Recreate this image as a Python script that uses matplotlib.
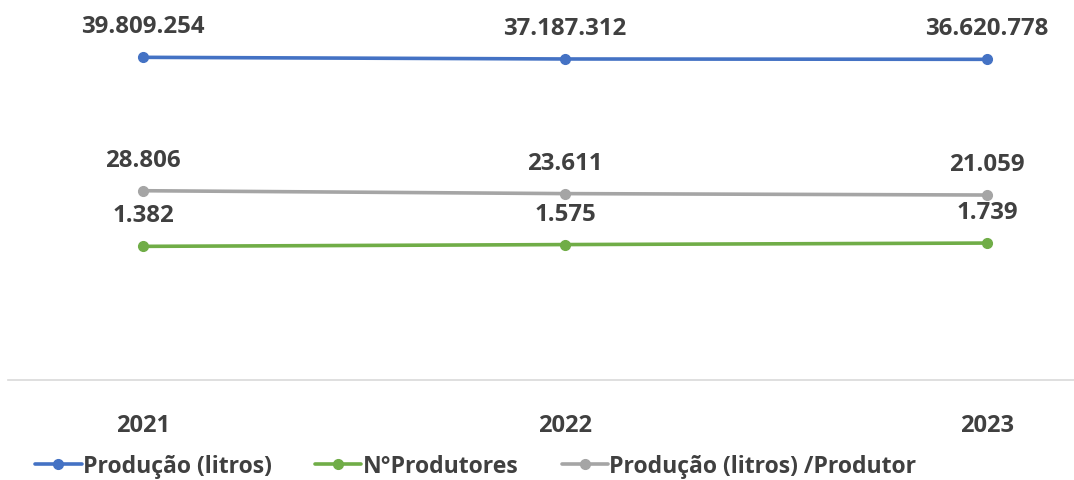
import matplotlib
matplotlib.use("Agg")
import matplotlib.pyplot as plt

plt.rcParams['font.family'] = ['Open Sans', 'DejaVu Sans']

anos = ['2021', '2022', '2023']
producao = [39809254, 37187312, 36620778]
produtores = [1382, 1575, 1739]
prod_por_produtor = [28806, 23611, 21059]

nomes = ['Produção (litros)', 'N°Produtores', 'Produção (litros) /Produtor']
cores = ['#4472C4', '#70AD47', '#A5A5A5']
texto = '#404040'


def fmt(v):
    return f"{v:,}".replace(",", ".")


fig = plt.figure(figsize=(10.74, 4.81), dpi=100)
ax = fig.add_axes([8 / 1074, 100 / 481, 1066 / 1074, 361 / 481])
ax2 = ax.twinx()
ax3 = ax.twinx()

x = list(range(len(anos)))
series = [
    (ax, producao, (-472e6, 100.6e6)),
    (ax3, produtores, (-13078, 25982)),
    (ax2, prod_por_produtor, (-312000, 338000)),
]

handles = []
for (a, vals, lim), nome, cor in zip(series, nomes, cores):
    h, = a.plot(x, vals, color=cor, lw=2.6, marker='o', ms=7, label=nome,
                solid_capstyle='round')
    handles.append(h)
    a.set_ylim(*lim)
    for xi, v in zip(x, vals):
        a.annotate(fmt(v), (xi, v), xytext=(0, 31), textcoords='offset pixels',
                   ha='center', va='center', fontsize=17.3, fontweight='bold',
                   color=texto, zorder=10)

for a in (ax, ax2, ax3):
    for s in ('top', 'left', 'right'):
        a.spines[s].set_visible(False)
    a.set_yticks([])
    a.spines['bottom'].set_visible(a is ax)

ax.spines['bottom'].set_color('#D9D9D9')
ax.spines['bottom'].set_linewidth(1.2)
ax.set_xlim(-0.32, 2.206)
ax.set_xticks(x)
ax.set_xticklabels(anos, fontsize=17, fontweight='bold', color=texto)
ax.tick_params(axis='x', length=0, pad=24)

fig.legend(handles=handles, loc='center left', bbox_to_anchor=(0.033, 1 - 467 / 481),
           ncol=3, frameon=False, borderpad=0, borderaxespad=0,
           handlelength=2.0, handletextpad=0.05, columnspacing=1.9,
           prop={'size': 16.6, 'weight': 'bold'}, labelcolor=texto)

fig.savefig('out.png', dpi=100)
